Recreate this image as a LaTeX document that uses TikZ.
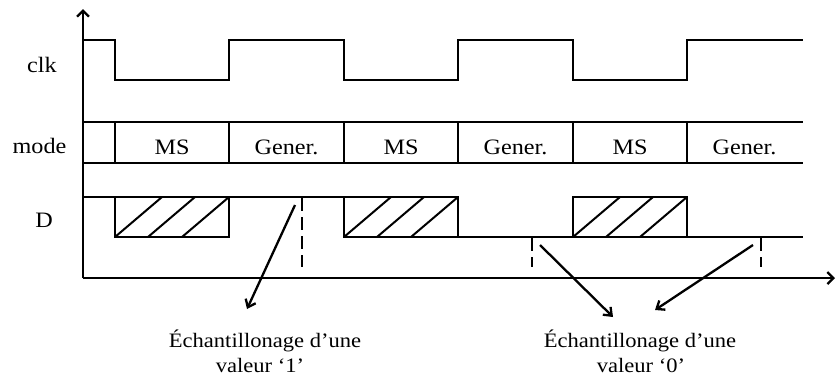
\documentclass[tikz,border=0pt]{standalone}
\usepackage{graphicx}
\usepackage{fontspec}
\setmainfont{Liberation Serif}
\usetikzlibrary{arrows.meta}
\newcommand\wideit[1]{\scalebox{1.1}[1]{#1}}
\begin{document}
\begin{tikzpicture}[x=1pt,y=-1pt,
  sig/.style={line width=2.3pt, line join=miter, line cap=rect},
  hatchln/.style={line width=2pt},
  axisln/.style={line width=2.3pt, -{Straight Barb[length=6pt,width=12pt,line width=2.3pt]}},
  pointer/.style={line width=2.3pt, -{Straight Barb[length=7pt,width=11pt,line width=2.3pt]}},
  sample/.style={line width=2.3pt, dash pattern=on 13pt off 6pt},
  lab/.style={font=\fontsize{22}{26}\selectfont, inner sep=0pt, anchor=base},
  note/.style={font=\fontsize{20.5}{26}\selectfont, inner sep=0pt, anchor=base}]
\useasboundingbox (0,0) rectangle (836,376);

% axes
\coordinate (O) at (83,278);
\coordinate (ytop) at (83,9);
\coordinate (xend) at (835,278);
\draw[axisln] (O) -- (ytop);
\draw[axisln] (O) -- (xend);

% labels
\node[lab] (lclk) at (42,72) {\wideit{clk}};
\node[lab] (lmode) at (39.5,153) {\wideit{mode}};
\node[lab] (lD) at (44,227) {\wideit{D}};

% clock
\draw[sig] (83,40) -- (115,40) -- (115,80) -- (229,80) -- (229,40) -- (344,40) -- (344,80)
  -- (458,80) -- (458,40) -- (573,40) -- (573,80) -- (687,80) -- (687,40) -- (802,40);

% mode
\draw[sig] (83,122) -- (802,122);
\draw[sig] (83,163) -- (802,163);
\foreach \xx in {115,229,344,458,573,687} \draw[sig] (\xx,122) -- (\xx,163);
\node[lab] (m1) at (172,154) {\wideit{MS}};
\node[lab] (m2) at (286.5,154) {\wideit{Gener.}};
\node[lab] (m3) at (401,154) {\wideit{MS}};
\node[lab] (m4) at (515.5,154) {\wideit{Gener.}};
\node[lab] (m5) at (630,154) {\wideit{MS}};
\node[lab] (m6) at (744.5,154) {\wideit{Gener.}};

% D signal
\draw[sig] (83,197) -- (458,197) -- (458,237) -- (802,237);
\draw[sig] (115,197) -- (115,237) -- (229,237) -- (229,197);
\draw[sig] (344,197) -- (344,237) -- (458,237);
\draw[sig] (573,197) rectangle (687,237);
\foreach \bx in {115,344,573} {
  \draw[hatchln] (\bx,237) -- ++(47,-40);
  \draw[hatchln] (\bx+33,237) -- ++(47,-40);
  \draw[hatchln] (\bx+67,237) -- ++(47,-40);
}

% sampling instants
\draw[sample] (302,198) -- (302,267);
\draw[sample] (532,238) -- (532,267);
\draw[sample] (761,238) -- (761,267);

% notes
\node[note] (n1a) at (265,347) {\wideit{Échantillonage d’une}};
\node[note] (n1b) at (260,372) {\wideit{valeur ‘1’}};
\node[note] (n2a) at (640,347) {\wideit{Échantillonage d’une}};
\node[note] (n2b) at (641,372) {\wideit{valeur ‘0’}};

% pointers
\coordinate (s1) at (295,205);
\coordinate (t1) at (247,309);
\coordinate (s2) at (540,245);
\coordinate (t2) at (613,317);
\coordinate (s3) at (753,245);
\coordinate (t3) at (655,310);
\draw[pointer] (s1) -- (t1);
\draw[pointer] (s2) -- (t2);
\draw[pointer] (s3) -- (t3);
\end{tikzpicture}
\end{document}
